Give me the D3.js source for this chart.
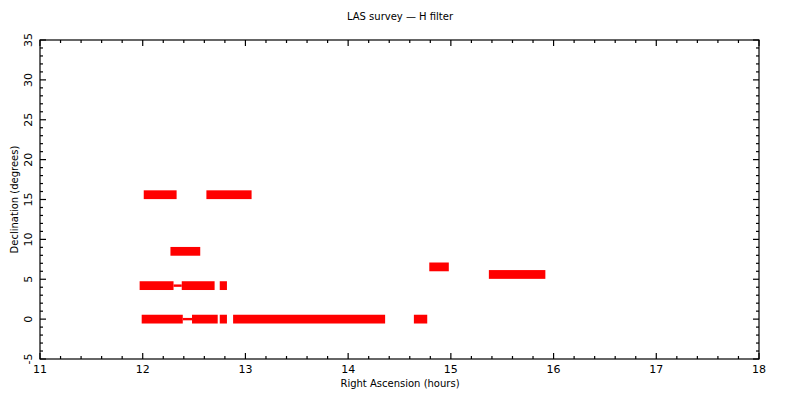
<!DOCTYPE html>
<html><head><meta charset="utf-8">
<script src="https://cdn.jsdelivr.net/npm/d3@7"></script>
<style>body{margin:0;background:#fff}svg{display:block}text{font-family:"DejaVu Sans",sans-serif;fill:#000}</style>
</head><body>
<svg id="c" width="800" height="400"></svg>
<script>
const title = "LAS survey \u2014 H filter";
const xLabel = "Right Ascension (hours)";
const yLabel = "Declination (degrees)";
const xTicks = [11,12,13,14,15,16,17,18];
const yTicks = [-5,0,5,10,15,20,25,30,35];
// survey strips: RA start, RA end (hours), Dec (degrees)
const stripRaStart = [12.01,12.62,12.27,11.97,12.38,12.75,11.99,12.48,12.75,12.88,14.64,14.79,15.37];
const stripRaEnd   = [12.33,13.06,12.56,12.30,12.70,12.82,12.39,12.73,12.82,14.36,14.77,14.98,15.92];
const stripDec     = [15.6,15.6,8.5,4.2,4.2,4.2,0.0,0.0,0.0,0.0,0.0,6.55,5.6];
// short isolated pointings
const dashRaStart = [12.30,12.39];
const dashRaEnd   = [12.38,12.48];
const dashDec     = [4.2,0.0];

const svg = d3.select("#c");
const m = {l:40, r:41, t:40, b:41};
const W = 800, H = 400;
const x = d3.scaleLinear().domain([11,18]).range([m.l, W-m.r]);
const y = d3.scaleLinear().domain([-5,35]).range([H-m.b, m.t]);

const strips = stripDec.map((d,i)=>({a:stripRaStart[i], b:stripRaEnd[i], dec:d}));
const dashes = dashDec.map((d,i)=>({a:dashRaStart[i], b:dashRaEnd[i], dec:d}));
const hh = 0.55;
svg.append("g").selectAll("rect").data(strips).join("rect")
  .attr("x", d=>x(d.a)).attr("width", d=>x(d.b)-x(d.a))
  .attr("y", d=>y(d.dec+hh)).attr("height", d=>y(d.dec-hh)-y(d.dec+hh))
  .attr("fill","#ff0000");
svg.append("g").selectAll("rect").data(dashes).join("rect")
  .attr("x", d=>x(d.a)).attr("width", d=>x(d.b)-x(d.a))
  .attr("y", d=>y(d.dec+0.15)).attr("height", d=>y(d.dec-0.15)-y(d.dec+0.15))
  .attr("fill","#ff0000");

// frame
svg.append("rect").attr("x",x(11)).attr("y",y(35)).attr("width",x(18)-x(11)).attr("height",y(-5)-y(35))
  .attr("fill","none").attr("stroke","#000").attr("stroke-width",1.2);

const tk = svg.append("g").attr("stroke","#000").attr("stroke-width",1.2);
const xMinor = d3.range(11,18.001,0.2);
xMinor.forEach(v=>{
  const major = Math.abs(v-Math.round(v))<1e-6;
  const L = major?6:3;
  tk.append("line").attr("x1",x(v)).attr("x2",x(v)).attr("y1",y(-5)).attr("y2",y(-5)-L);
  tk.append("line").attr("x1",x(v)).attr("x2",x(v)).attr("y1",y(35)).attr("y2",y(35)+L);
});
const yMinor = d3.range(-5,35.001,1);
yMinor.forEach(v=>{
  const major = v%5===0;
  const L = major?6:3;
  tk.append("line").attr("y1",y(v)).attr("y2",y(v)).attr("x1",x(11)).attr("x2",x(11)+L);
  tk.append("line").attr("y1",y(v)).attr("y2",y(v)).attr("x1",x(18)).attr("x2",x(18)-L);
});

svg.append("g").selectAll("text").data(xTicks).join("text")
  .attr("x",d=>x(d)).attr("y",y(-5)+14).attr("text-anchor","middle")
  .attr("font-size",11).text(d=>d);
svg.append("g").selectAll("text").data(yTicks).join("text")
  .attr("transform",d=>`translate(${x(11)-8},${y(d)}) rotate(-90)`)
  .attr("text-anchor","middle").attr("font-size",11).text(d=>d);

svg.append("text").attr("x",400).attr("y",20).attr("text-anchor","middle").attr("font-size",10).text(title);
svg.append("text").attr("x",400).attr("y",387).attr("text-anchor","middle").attr("font-size",10).text(xLabel);
svg.append("text").attr("transform",`translate(18,${y(15)}) rotate(-90)`).attr("text-anchor","middle").attr("font-size",10).text(yLabel);
</script>
</body></html>
